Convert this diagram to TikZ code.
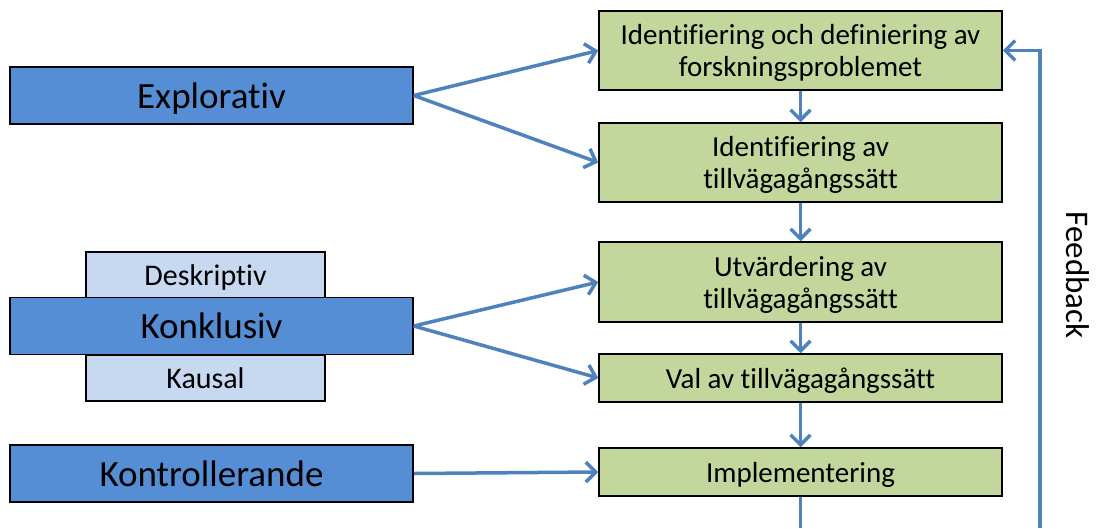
\documentclass[tikz,border=0pt]{standalone}
\usepackage{fontspec}
\setmainfont{Carlito}[Ligatures=NoCommon]
\usepackage{tikz}
\usetikzlibrary{positioning,arrows.meta}

\definecolor{mainblue}{HTML}{558ED5}
\definecolor{lightblue}{HTML}{C6D9F1}
\definecolor{stepgreen}{HTML}{C3D69B}
\definecolor{linkblue}{HTML}{4F81BD}

\tikzset{
  mainbox/.style={draw=black, line width=1.5pt, fill=mainblue, minimum width=403pt, minimum height=57pt, inner sep=0pt, text depth=0pt, font=\fontsize{37}{40}\selectfont},
  subbox/.style={draw=black, line width=1.5pt, fill=lightblue, minimum width=239pt, minimum height=46pt, inner sep=0pt, text depth=0pt, font=\fontsize{30}{32}\selectfont},
  stepbox/.style={draw=black, line width=1.5pt, fill=stepgreen, minimum width=403pt, inner sep=0pt, text depth=0pt, align=center, font=\fontsize{29}{32}\selectfont},
  flow/.style={draw=linkblue, line width=3.5pt, -{Straight Barb[length=10pt,width=20pt]}}
}

\begin{document}
\begin{tikzpicture}[x=1pt, y=-1pt]
    \useasboundingbox (0,0) rectangle (1098,528);
    % Nodes
    \node (expl)[mainbox] at (211.5,95.5) {Explorativ};
    \node (desk)[subbox] at (205.5,275) {Deskriptiv};
    \node (kaus)[subbox] at (205.5,378) {Kausal};
    \node (konk)[mainbox] at (211.5,326) {Konklusiv};
    \node (kontr)[mainbox] at (211.5,473.5) {Kontrollerande};

    \node (problem)[stepbox, minimum height=79pt] at (800.5,50.5) {Identifiering och definiering av\\forskningsproblemet};
    \node (ident)[stepbox, minimum height=79pt] at (800.5,162.5) {Identifiering av\\tillvägagångssätt};
    \node (eval)[stepbox, minimum height=80pt] at (800.5,282) {Utvärdering av\\tillvägagångssätt};
    \node (choice)[stepbox, minimum height=48pt] at (800.5,378) {Val av tillvägagångssätt};
    \node (impl)[stepbox, minimum height=48pt] at (800.5,472) {Implementering};

    \coordinate (out) at (800.5,528);
    \coordinate (fbstart) at (1040,528);
    \node (fblabel)[rotate=-90, font=\fontsize{33}{36}\selectfont] at (1078,275) {Feedback};

    % Arrows
    \draw[flow] (expl.east) -- (problem.west);
    \draw[flow] (expl.east) -- (ident.west);
    \draw[flow] (konk.east) -- (eval.west);
    \draw[flow] (konk.east) -- (choice.west);
    \draw[flow] (kontr.east) -- (impl.west);

    \draw[flow] (problem) -- (ident);
    \draw[flow] (ident) -- (eval);
    \draw[flow] (eval) -- (choice);
    \draw[flow] (choice) -- (impl);
    \draw[draw=linkblue, line width=3.5pt] (impl) -- (out);
    \draw[flow] (fbstart) |- (problem.east);
\end{tikzpicture}
\end{document}
